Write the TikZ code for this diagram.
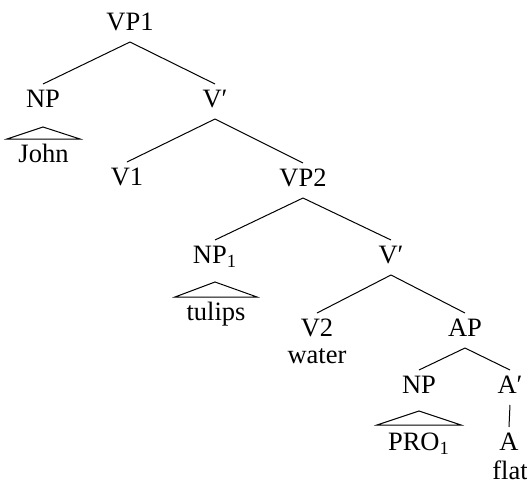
\documentclass[tikz,border=0pt]{standalone}
\usepackage{fontspec}
\setmainfont{Liberation Serif}
\newfontfamily\tms{Liberation Serif}
\usetikzlibrary{calc}
\begin{document}
\begin{tikzpicture}[x=0.5pt,y=-0.5pt,
  lbl/.style={anchor=base,inner sep=0pt,outer sep=0pt,text height=11.5pt,text depth=6pt,font=\tms\fontsize{13.25}{16}\selectfont},
  br/.style={line width=0.5pt},
  tri/.style={line width=0.5pt,line join=miter}]
\useasboundingbox (0,0) rectangle (527,483);
\node[lbl] (vp1) at (130,30) {VP1};
\node[lbl] (np) at (43,107) {NP};
\node[lbl] (vb1) at (215,107) {V′};
\node[lbl] (john) at (43.5,162) {John};
\node[lbl] (v1) at (127,185) {V1};
\node[lbl] (vp2) at (303,186) {VP2};
\node[lbl] (np1) at (215,263) {NP\textsubscript{1}};
\node[lbl] (vb2) at (391,263) {V′};
\node[lbl] (tulips) at (216,320) {tulips};
\node[lbl] (v2) at (317,336) {V2};
\node[lbl] (water) at (317,363) {water};
\node[lbl] (ap) at (465,336) {AP};
\node[lbl] (np2) at (419,393) {NP};
\node[lbl] (ab) at (510,393) {A′};
\node[lbl] (pro) at (419,450) {PRO\textsubscript{1}};
\node[lbl] (a) at (509,450) {A};
\node[lbl] (flat) at (510,479) {flat};
\draw[br] (vp1.south) -- (np.north);
\draw[br] (vp1.south) -- (vb1.north);
\draw[br] (vb1.south) -- (v1.north);
\draw[br] (vb1.south) -- (vp2.north);
\draw[br] (vp2.south) -- (np1.north);
\draw[br] (vp2.south) -- (vb2.north);
\draw[br] (vb2.south) -- (v2.north);
\draw[br] (vb2.south) -- (ap.north);
\draw[br] (ap.south) -- (np2.north);
\draw[br] (ap.south) -- (ab.north);
\draw[br] (ab.south) -- (a.north);
\draw[tri] ($(np.south)+(0,8)$) -- ($(john.north)+(-36.5,0)$) -- ($(john.north)+(36.5,0)$) -- cycle;
\draw[tri] ($(np1.south)+(0,7)$) -- ($(tulips.north)+(-41,0)$) -- ($(tulips.north)+(41,0)$) -- cycle;
\draw[tri] ($(np2.south)+(0,6)$) -- ($(pro.north)+(-42,-2)$) -- ($(pro.north)+(42,-2)$) -- cycle;
\end{tikzpicture}
\end{document}
